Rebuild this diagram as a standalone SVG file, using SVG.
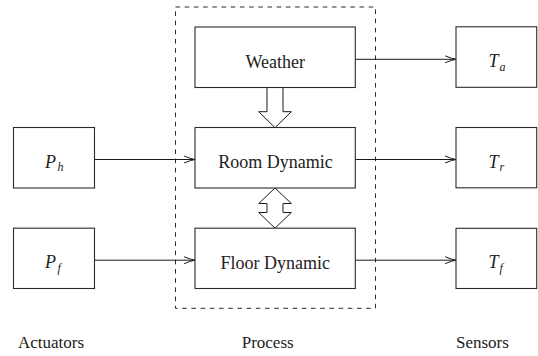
<svg xmlns="http://www.w3.org/2000/svg" width="538" height="356" viewBox="0 0 538 356">
<defs>
  <marker id="arr" markerUnits="userSpaceOnUse" viewBox="-12 -5 14 10" markerWidth="14" markerHeight="10" refX="0" refY="0" orient="auto" overflow="visible">
    <path d="M -10.5,-3.3 Q -4,-0.6 0,0 Q -4,0.6 -10.5,3.3" fill="none" stroke="#1a1a1a" stroke-width="1" stroke-linecap="round"/>
  </marker>
</defs>
<rect width="538" height="356" fill="#ffffff"/>

<g id="process-frame" fill="none" stroke="#2a2a2a" stroke-width="1" stroke-dasharray="4.6 4.6">
  <rect x="175.5" y="7" width="200" height="301.3"/>
</g>

<g id="connectors" stroke="#1a1a1a" stroke-width="1">
  <g fill="none">
    <line x1="355" y1="59.3" x2="456" y2="59.3" marker-end="url(#arr)"/>
    <line x1="94.5" y1="159.5" x2="195" y2="159.5" marker-end="url(#arr)"/>
    <line x1="355" y1="159.5" x2="456" y2="159.5" marker-end="url(#arr)"/>
    <line x1="94.5" y1="260.2" x2="195" y2="260.2" marker-end="url(#arr)"/>
    <line x1="355" y1="260.2" x2="456" y2="260.2" marker-end="url(#arr)"/>
  </g>
  <g fill="#ffffff">
    <path d="M 267,87.5 L 283,87.5 L 283,111.7 L 291.3,111.7 L 275,127.7 L 258.7,111.7 L 267,111.7 Z"/>
    <path d="M 275,188 L 291.3,203.5 L 283,203.5 L 283,212.5 L 291.3,212.5 L 275,228.2 L 258.7,212.5 L 267,212.5 L 267,203.5 L 258.7,203.5 Z"/>
  </g>
</g>

<g id="nodes" fill="#ffffff" stroke="#2a2a2a" stroke-width="1.1">
<g id="weather">
  <rect x="195" y="27" width="160.3" height="60.5"/>
  <text stroke="none" fill="#222" style="font-family:'Liberation Serif',serif" font-size="18" x="275.3" y="68" text-anchor="middle">Weather</text>
</g>
<g id="room-dynamic">
  <rect x="195" y="127.5" width="160.3" height="60.5"/>
  <text stroke="none" fill="#222" style="font-family:'Liberation Serif',serif" font-size="18" x="275.6" y="168.4" text-anchor="middle">Room Dynamic</text>
</g>
<g id="floor-dynamic">
  <rect x="195" y="228.2" width="160.3" height="60.3"/>
  <text stroke="none" fill="#222" style="font-family:'Liberation Serif',serif" font-size="18" x="275.3" y="269.3" text-anchor="middle">Floor Dynamic</text>
</g>

<g id="p-h">
  <rect x="13.5" y="127.5" width="81" height="60.5"/>
  <text stroke="none" fill="#222" style="font-family:'Liberation Serif',serif" font-style="italic" font-size="18" y="167.6"><tspan x="45">P</tspan><tspan font-size="12" x="57.5" y="171.4">h</tspan></text>
</g>
<g id="p-f">
  <rect x="13.5" y="228.2" width="81" height="60.3"/>
  <text stroke="none" fill="#222" style="font-family:'Liberation Serif',serif" font-style="italic" font-size="18" y="268.3"><tspan x="45">P</tspan><tspan font-size="12" x="57.5" y="272">f</tspan></text>
</g>

<g id="t-a">
  <rect x="456" y="26.8" width="80.7" height="60.5"/>
  <text stroke="none" fill="#222" style="font-family:'Liberation Serif',serif" font-style="italic" font-size="18" y="67.4"><tspan x="488.5">T</tspan><tspan font-size="12" x="499.5" y="71">a</tspan></text>
</g>
<g id="t-r">
  <rect x="456" y="127.5" width="80.7" height="60.3"/>
  <text stroke="none" fill="#222" style="font-family:'Liberation Serif',serif" font-style="italic" font-size="18" y="167.5"><tspan x="488.5">T</tspan><tspan font-size="12" x="499.5" y="171">r</tspan></text>
</g>
<g id="t-f">
  <rect x="456" y="228.3" width="80.7" height="60.2"/>
  <text stroke="none" fill="#222" style="font-family:'Liberation Serif',serif" font-style="italic" font-size="18" y="268.3"><tspan x="488.5">T</tspan><tspan font-size="12" x="499.5" y="272">f</tspan></text>
</g>
</g>

<g id="captions" fill="#222">
  <text style="font-family:'Liberation Serif',serif" font-size="17" x="18" y="348.3">Actuators</text>
  <text style="font-family:'Liberation Serif',serif" font-size="17" x="241.7" y="348.3">Process</text>
  <text style="font-family:'Liberation Serif',serif" font-size="17" x="456" y="348.3">Sensors</text>
</g>
</svg>
